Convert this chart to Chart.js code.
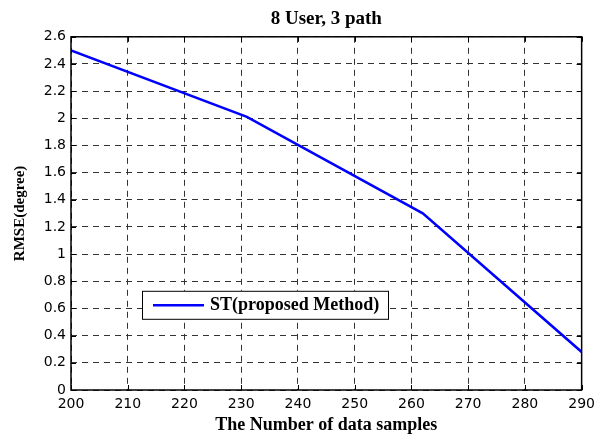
<!DOCTYPE html>
<html>
<head>
<meta charset="utf-8">
<script src="https://cdn.jsdelivr.net/npm/chart.js@4/dist/chart.umd.min.js"></script>
<style>
  body { margin: 0; background: #fff; }
  #wrap { width: 601px; height: 436px; }
</style>
</head>
<body>
<div id="wrap"><canvas id="rmseChart" width="601" height="436"></canvas></div>
<script>
// values
const sampleCounts = [200, 231, 262, 290];
const rmseValues = [2.5, 2.01, 1.3, 0.28];
const xTickLabels = ['200', '210', '220', '230', '240', '250', '260', '270', '280', '290'];
const yTickLabels = ['0', '0.2', '0.4', '0.6', '0.8', '1', '1.2', '1.4', '1.6', '1.8', '2', '2.2', '2.4', '2.6'];

const serif = '"Liberation Serif", "Times New Roman", serif';

// MATLAB-ish frame, inner tick marks and legend box
const framePlugin = {
    id: 'frame',
    afterDraw(chart) {
        const { ctx, chartArea: a, scales } = chart;
        ctx.save();
        ctx.strokeStyle = '#000';
        ctx.lineWidth = 1;
        ctx.setLineDash([]);
        ctx.beginPath();
        scales.x.ticks.forEach(t => {
            const px = Math.round(scales.x.getPixelForValue(t.value)) + 0.5;
            ctx.moveTo(px, a.bottom); ctx.lineTo(px, a.bottom - 5);
            ctx.moveTo(px, a.top); ctx.lineTo(px, a.top + 5);
        });
        scales.y.ticks.forEach(t => {
            const py = Math.round(scales.y.getPixelForValue(t.value)) + 0.5;
            ctx.moveTo(a.left, py); ctx.lineTo(a.left + 5, py);
            ctx.moveTo(a.right, py); ctx.lineTo(a.right - 5, py);
        });
        ctx.stroke();
        ctx.lineWidth = 1.5;
        ctx.strokeRect(a.left, a.top, a.right - a.left, a.bottom - a.top);

        // legend
        const ds = chart.data.datasets[0];
        const bx = a.left + 71, by = a.top + 254, bw = 246, bh = 28;
        ctx.fillStyle = '#fff';
        ctx.fillRect(bx, by, bw, bh);
        ctx.lineWidth = 1;
        ctx.strokeRect(bx + 0.5, by + 0.5, bw, bh);
        ctx.strokeStyle = ds.borderColor;
        ctx.lineWidth = 2.5;
        ctx.beginPath();
        ctx.moveTo(bx + 11, by + 14.5);
        ctx.lineTo(bx + 62, by + 14.5);
        ctx.stroke();
        ctx.fillStyle = '#000';
        ctx.font = 'bold 18px ' + serif;
        ctx.textBaseline = 'middle';
        ctx.fillText(ds.label, bx + 68, by + 15);
        ctx.restore();
    }
};

const ctx = document.getElementById('rmseChart').getContext('2d');
const rmseChart = new Chart(ctx, {
    type: 'line',
    data: {
        datasets: [{
            label: 'ST(proposed Method)',
            data: sampleCounts.map((n, i) => ({ x: n, y: rmseValues[i] })),
            borderColor: '#0000ff',
            borderWidth: 2.5,
            pointRadius: 0,
            tension: 0,
            fill: false
        }]
    },
    options: {
        responsive: false,
        animation: false,
        layout: {
            padding: { left: 0, right: 19, top: 0, bottom: 0 }
        },
        plugins: {
            legend: { display: false },
            tooltip: { enabled: false },
            title: {
                display: true,
                text: '8 User, 3 path',
                fullSize: false,
                color: '#000',
                font: { family: serif, size: 19, weight: 'bold', lineHeight: 1.2 },
                padding: { top: 8, bottom: 6 }
            }
        },
        scales: {
            x: {
                type: 'linear',
                min: 200,
                max: 290,
                afterFit: (scale) => { scale.height = 46; },
                ticks: {
                    stepSize: 10,
                    padding: 6,
                    color: '#000',
                    maxRotation: 0,
                    font: { family: '"DejaVu Sans", sans-serif', size: 14 },
                    callback: (v, i) => xTickLabels[i]
                },
                grid: { color: '#333', lineWidth: 1, drawTicks: false },
                border: { display: false, dash: [6, 5] },
                title: {
                    display: true,
                    text: 'The Number of data samples',
                    color: '#000',
                    font: { family: serif, size: 18, weight: 'bold', lineHeight: 1.2 },
                    padding: { top: 0, bottom: 0 }
                }
            },
            y: {
                min: 0,
                max: 2.6,
                afterFit: (scale) => { scale.width = 71; },
                ticks: {
                    stepSize: 0.2,
                    padding: 5,
                    color: '#000',
                    font: { family: '"DejaVu Sans", sans-serif', size: 14 },
                    callback: (v, i) => yTickLabels[i]
                },
                grid: { color: '#333', lineWidth: 1, drawTicks: false },
                border: { display: false, dash: [6, 5] },
                title: {
                    display: true,
                    text: 'RMSE(degree)',
                    color: '#000',
                    font: { family: serif, size: 15, weight: 'bold', lineHeight: 1.2 },
                    padding: { top: 11, bottom: 0 }
                }
            }
        }
    },
    plugins: [framePlugin]
});
</script>
</body>
</html>
